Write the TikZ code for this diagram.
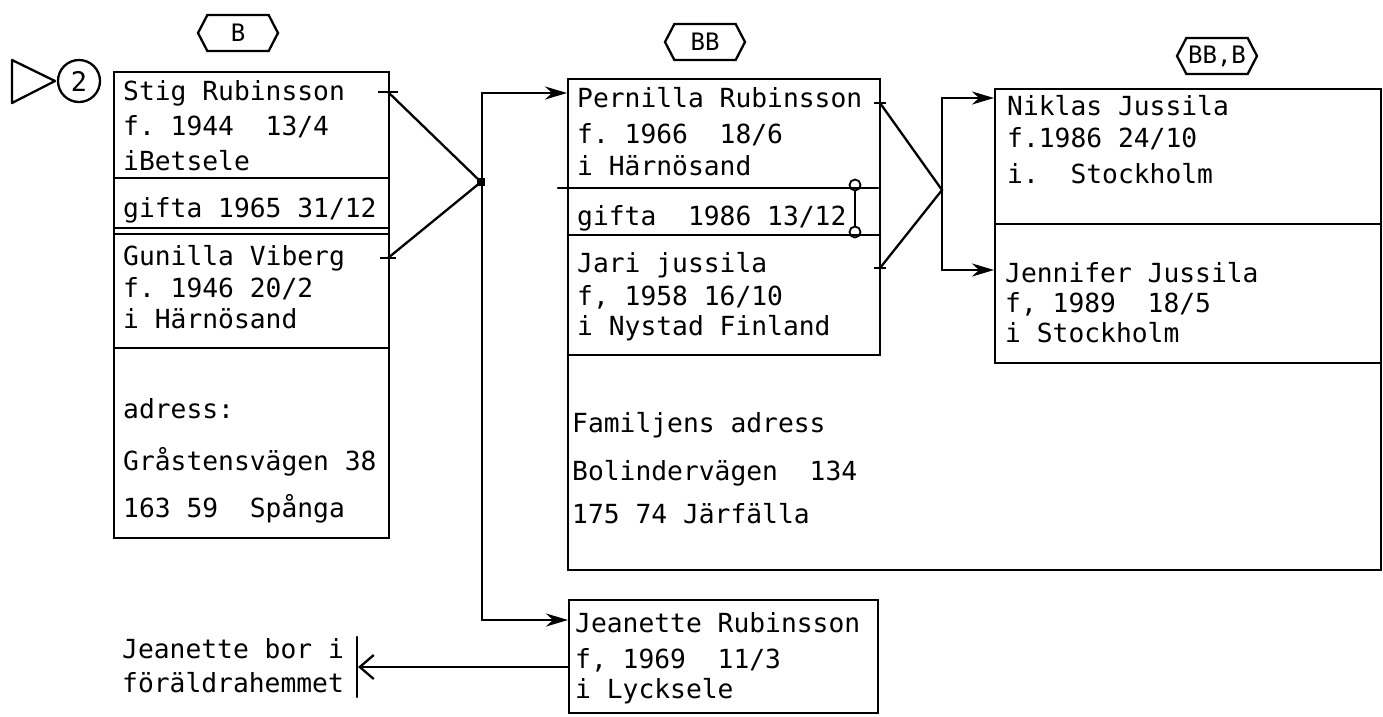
\documentclass[tikz,border=0pt]{standalone}
\usepackage{fontspec}
\setmonofont{DejaVu Sans Mono}
\usetikzlibrary{arrows.meta,shapes.symbols}
\begin{document}
\begin{tikzpicture}[x=1pt,y=-1pt,
  txt/.style={anchor=base west, inner sep=0pt, font=\ttfamily\fontsize{26.3}{30}\selectfont},
  ln/.style={line width=2.3pt, line cap=round},
  arr/.style={ln, -{Stealth[length=22pt,width=13pt,inset=7pt]}},
  openarr/.style={ln, -{Straight Barb[length=14pt,width=24pt,line width=2.3pt]}},
  hexa/.style={draw, line width=2.3pt, signal, signal to=east and west, signal pointer angle=125,
     minimum width=80pt, minimum height=36pt, inner sep=0pt, font=\ttfamily\fontsize{24}{26}\selectfont},
  tick/.style={line width=2pt}
]
\fill[white] (0,0) rectangle (1383,716);
\useasboundingbox (0,0) rectangle (1383,716);

% --- generation labels
\node[hexa] (hB) at (238,33) {B};
\node[hexa] (hBB) at (705,42) {BB};
\node[hexa] (hBBB) at (1217,56) {BB,B};

% --- start marker
\draw[ln, line join=round] (12,60) -- (12,103) -- (55,81) -- cycle;
\node[draw, circle, line width=2.3pt, minimum size=42pt, inner sep=0pt,
      font=\ttfamily\fontsize{27}{29}\selectfont] (two) at (79,81) {2};

% --- box B (parents)
\draw[ln] (114,72) rectangle (389,538);
\draw[ln] (114,178) -- (389,178);
\draw[ln] (114,228) -- (389,228);
\draw[ln] (114,234) -- (389,234);
\draw[ln] (114,348) -- (389,348);
\node[txt] (b1) at (123,100) {Stig Rubinsson};
\node[txt] (b2) at (123,135) {f. 1944~~13/4};
\node[txt] (b3) at (123,170) {iBetsele};
\node[txt] (b4) at (123,217) {gifta 1965 31/12};
\node[txt] (b5) at (123,265) {Gunilla Viberg};
\node[txt] (b6) at (123,297) {f. 1946 20/2};
\node[txt] (b7) at (123,328) {i Härnösand};
\node[txt] (b8) at (123,418) {adress:};
\node[txt] (b9) at (123,470) {Gråstensvägen 38};
\node[txt] (b10) at (123,517) {163 59~~Spånga};

% --- box BB (Pernilla / Jari / family address)
\draw[ln] (568,79) -- (880,79) -- (880,355);
\draw[ln] (568,79) -- (568,570) -- (1381,570);
\draw[ln] (558,188) -- (878,188);
\draw[ln] (568,235) -- (880,235);
\draw[ln] (568,355) -- (880,355);
\node[txt] (p1) at (577,107) {Pernilla Rubinsson};
\node[txt] (p2) at (577,143) {f. 1966~~18/6};
\node[txt] (p3) at (577,175) {i Härnösand};
\node[txt] (p4) at (577,225) {gifta~~1986 13/12};
\node[txt] (p5) at (577,272) {Jari jussila};
\node[txt] (p6) at (577,305) {f, 1958 16/10};
\node[txt] (p7) at (577,335) {i Nystad Finland};
\node[txt] (f1) at (572,432) {Familjens adress};
\node[txt] (f2) at (572,480) {Bolindervägen~~134};
\node[txt] (f3) at (572,523) {175 74 Järfälla};
% marriage mark
\node[draw, circle, line width=1.8pt, minimum size=11pt, inner sep=0pt] (m1) at (855,185) {};
\node[draw, circle, line width=1.8pt, minimum size=11pt, inner sep=0pt] (m2) at (855,232) {};
\draw[line width=1.8pt] (m1) -- (m2);

% --- box BB,B (children)
\draw[ln] (995,89) -- (1381,89) -- (1381,570);
\draw[ln] (995,89) -- (995,363) -- (1381,363);
\draw[ln] (995,224) -- (1381,224);
\node[txt] (n1) at (1007,115) {Niklas Jussila};
\node[txt] (n2) at (1007,147) {f.1986 24/10};
\node[txt] (n3) at (1007,183) {i.~~Stockholm};
\node[txt] (j1) at (1005,282) {Jennifer Jussila};
\node[txt] (j2) at (1005,312) {f, 1989~~18/5};
\node[txt] (j3) at (1005,342) {i Stockholm};

% --- Jeanette box
\draw[ln] (569,600) rectangle (878,713);
\node[txt] (e1) at (575,632) {Jeanette Rubinsson};
\node[txt] (e2) at (575,668) {f, 1969~~11/3};
\node[txt] (e3) at (575,698) {i Lycksele};

% --- note
\node[txt] (o1) at (122,658) {Jeanette bor i};
\node[txt] (o2) at (122,692) {föräldrahemmet};
\coordinate (barT) at (357,637);
\coordinate (barB) at (357,697);
\draw[ln] (barT) -- (barB);

% --- connector points
\coordinate (stigR) at (388,92);
\coordinate (gunR) at (388,258);
\coordinate (J1) at (481,182);
\coordinate (trT) at (482,93);
\coordinate (trB) at (482,620);
\coordinate (pernL) at (567,93);
\coordinate (jeanL) at (568,620);
\coordinate (pernR) at (880,103);
\coordinate (jariR) at (880,268);
\coordinate (J2) at (942,190);
\coordinate (chT) at (942,98);
\coordinate (chB) at (942,270);
\coordinate (nikL) at (994,98);
\coordinate (jenL) at (994,270);
\coordinate (jeanL2) at (568,667);
\coordinate (barM) at (358,667);

% ticks
\draw[tick] (378,92) -- (398,92);
\draw[tick] (380,258) -- (396,258);
\draw[tick] (874,103) -- (886,103);
\draw[tick] (874,268) -- (886,268);
\fill (J1) ++(-4,-4) rectangle ++(8,8);

% connectors
\draw[ln] (stigR) -- (J1) -- (gunR);
\draw[ln] (trT) -- (trB);
\draw[arr] (trT) -- (pernL);
\draw[arr] (trB) -- (jeanL);
\draw[ln] (pernR) -- (J2) -- (jariR);
\draw[ln] (chT) -- (chB);
\draw[arr] (chT) -- (nikL);
\draw[arr] (chB) -- (jenL);
\draw[openarr] (jeanL2) -- (barM);
\end{tikzpicture}
\end{document}
